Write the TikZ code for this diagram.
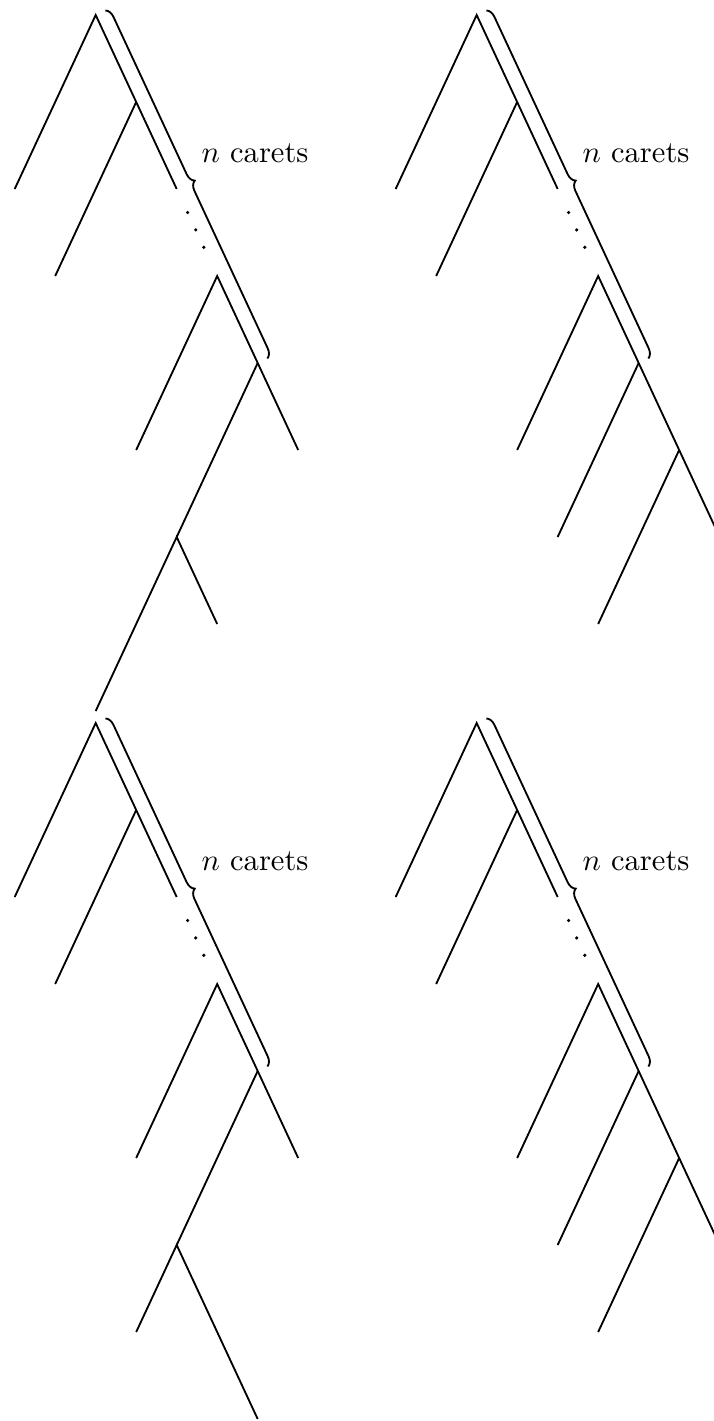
\documentclass[tikz,border=0pt]{standalone}
\usepackage{amsmath}
\usetikzlibrary{calc,decorations.pathreplacing}

\begin{document}
\begin{tikzpicture}[
    x=0.4655cm, y=1cm,
    edge/.style={line width=0.6pt},
    brc/.style={decorate, decoration={brace, amplitude=3pt, raise=3.5pt}, line width=0.6pt},
    lbl/.style={anchor=base west, inner sep=0pt},
]
\useasboundingbox (-2.363,0.1724) rectangle (15.267,-16.161);
% common upper part: root, two carets, dots, the caret below, brace
\foreach \t/\sx/\sy in {tl/0/0, tr/9.407/0, bl/0/-8.138, br/9.407/-8.138} {
  \begin{scope}[shift={(\sx,\sy)}]
  \coordinate (\t-r) at (0,0);
  \coordinate (\t-a) at (1,-1);
  \coordinate (\t-b) at (2,-2);
  \coordinate (\t-c) at (3,-3);
  \coordinate (\t-d) at (4,-4);
  \coordinate (\t-e) at (5,-5);
  \coordinate (\t-g) at (2,-6);
  \coordinate (\t-l1) at (-2,-2);
  \coordinate (\t-l2) at (-1,-3);
  \coordinate (\t-l3) at (1,-5);
  \draw[edge] (\t-l1) -- (\t-r) -- (\t-b);
  \draw[edge] (\t-a) -- (\t-l2);
  \draw[edge] (\t-l3) -- (\t-c) -- (\t-e);
  \draw[edge] (\t-d) -- (\t-g);
  \foreach \k in {2.27,2.47,2.67}
    \fill (\k,-\k) circle (0.6pt);
  \draw[brc] (\t-r) -- (\t-d);
  \node[lbl] (\t-lab) at (2.6,-1.7) {$n$ carets};
  \end{scope}
}
% left trees
\coordinate (tl-h) at ($(tl-g)+(1,-1)$);
\coordinate (tl-k) at ($(tl-g)+(-2,-2)$);
\draw[edge] (tl-h) -- (tl-g) -- (tl-k);
\coordinate (bl-h) at ($(bl-g)+(-1,-1)$);
\coordinate (bl-k) at ($(bl-g)+(2,-2)$);
\draw[edge] (bl-h) -- (bl-g) -- (bl-k);
% right trees
\coordinate (tr-f) at ($(tr-e)+(1,-1)$);
\coordinate (tr-h) at ($(tr-e)+(-2,-2)$);
\draw[edge] (tr-e) -- (tr-f);
\draw[edge] (tr-e) -- (tr-h);
\coordinate (br-f) at ($(br-e)+(1,-1)$);
\coordinate (br-h) at ($(br-e)+(-2,-2)$);
\draw[edge] (br-e) -- (br-f);
\draw[edge] (br-e) -- (br-h);
\end{tikzpicture}
\end{document}
